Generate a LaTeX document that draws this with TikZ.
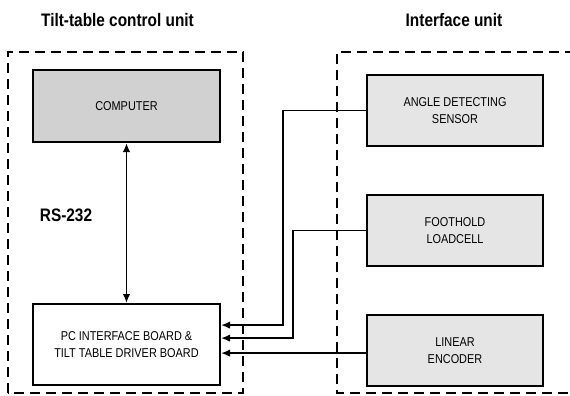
\documentclass[tikz,border=0pt]{standalone}
\usepackage{fontspec}
\setmainfont{Liberation Sans}[FakeStretch=0.85]
\usepackage{tikz}
\usetikzlibrary{arrows.meta,positioning,calc}

\begin{document}
\begin{tikzpicture}[
    node distance=0.94cm,
    unit/.style={draw=black, line width=1.1pt, dash pattern=on 0.2cm off 0.12cm},
    title/.style={font=\fontsize{10.3}{12}\selectfont\bfseries},
    block/.style={rectangle, minimum width=3.74cm, text centered, draw=black, line width=1.2pt, font=\fontsize{7.3}{10}\selectfont, align=center},
    sensorbox/.style={block, minimum width=3.52cm, minimum height=1.42cm, fill=black!10},
    arrow/.style={line width=1pt, -{Latex[length=1.8mm,width=1.5mm]}},
    dblarrow/.style={line width=1pt, {Latex[length=1.8mm,width=1.5mm]}-{Latex[length=1.8mm,width=1.5mm]}}
]
    \useasboundingbox (0,0) rectangle (11.4,7.92);

    % unit frames
    \draw[unit] (0.16,0.06) rectangle (4.86,6.88);
    \draw[unit] (11.5,6.88) -- (6.74,6.88) -- (6.74,0.06) -- (11.5,0.06);

    \node[title] (ctrltitle) at (2.35,7.52) {Tilt-table control unit};
    \node[title] (ifacetitle) at (9.08,7.52) {Interface unit};

    % control unit
    \node[block, fill=black!18, minimum height=1.44cm] (computer) at (2.53,5.80) {COMPUTER};
    \node[block, minimum height=1.62cm, below=3.2cm of computer] (pcboard) {PC INTERFACE BOARD \&\\TILT TABLE DRIVER BOARD};
    \node[title] (rslabel) at (1.32,3.62) {RS-232};

    % interface unit
    \node[sensorbox] (sensor) at (9.10,5.71) {ANGLE DETECTING\\SENSOR};
    \node[sensorbox, below=of sensor] (foothold) {FOOTHOLD\\LOADCELL};
    \node[sensorbox, below=of foothold] (encoder) {LINEAR\\ENCODER};

    \coordinate (in1) at ($(pcboard.east)+(0,0.39)$);
    \coordinate (in2) at ($(pcboard.east)+(0,0.13)$);
    \coordinate (in3) at ($(pcboard.east)+(0,-0.17)$);

    \draw[dblarrow] (computer) -- (pcboard);
    \draw[arrow] (sensor.west) -- ++(-1.66,0) |- (in1);
    \draw[arrow] (foothold.west) -- ++(-1.46,0) |- (in2);
    \draw[arrow] (encoder.west |- in3) -- (in3);

\end{tikzpicture}
\end{document}
